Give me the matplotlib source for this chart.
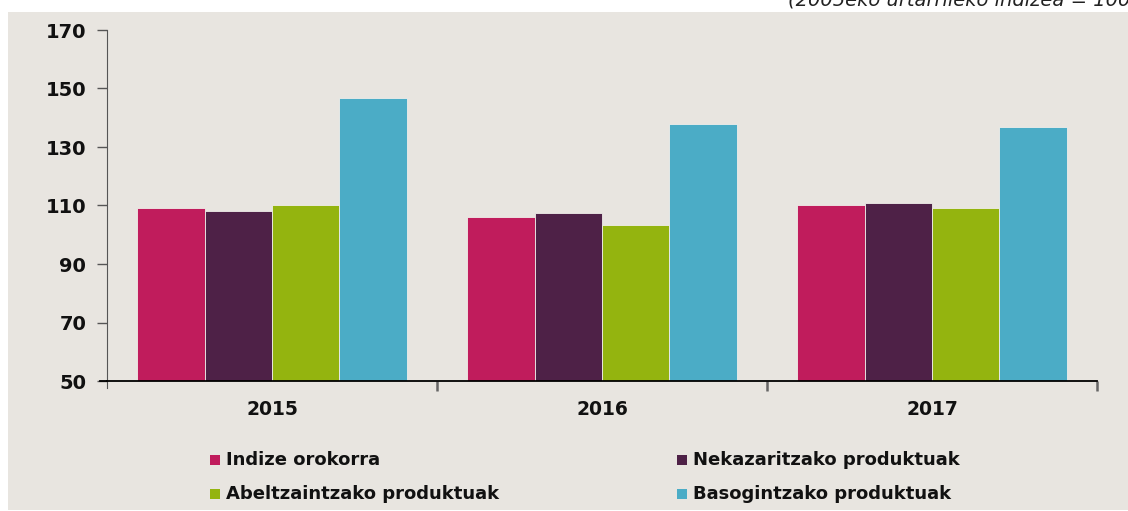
import matplotlib
matplotlib.use("Agg")
import matplotlib.pyplot as plt
from matplotlib.patches import Rectangle
import numpy as np

years = ["2015", "2016", "2017"]
series = ["Indize orokorra", "Nekazaritzako produktuak",
          "Abeltzaintzako produktuak", "Basogintzako produktuak"]
indize = [109.1, 106.1, 110.2]
nekazaritza = [108.1, 107.4, 110.9]
abeltzaintza = [110.2, 103.3, 109.1]
basogintza = [146.8, 137.9, 136.8]
colors = ["#C01C5C", "#4E2147", "#94B40F", "#4BACC6"]
yticks = [50, 70, 90, 110, 130, 150, 170]

bg = "#E8E5E0"
fig = plt.figure(figsize=(11.28, 5.11), dpi=100)
fig.patches.append(Rectangle((8/1128, 1-510/511), 1-8/1128, (510-12)/511,
                             transform=fig.transFigure, facecolor=bg,
                             edgecolor="none", zorder=-10))
# subtitle sits partly outside the image, as in the source
fig.text(788/1128, 1.0, "(2005eko urtarrileko indizea = 100)", style="italic",
         fontsize=14, color="#222222", ha="left", va="center")

ax = fig.add_axes([107/1128, 1-381/511, 990/1128, 351/511])
ax.set_facecolor("none")

data = [indize, nekazaritza, abeltzaintza, basogintza]
x = np.arange(len(years))
w = 0.204
for i, vals in enumerate(data):
    ax.bar(x + (i - 1.5) * w, np.array(vals) - 50, width=w, bottom=50,
           color=colors[i], edgecolor="#F0EEEA", linewidth=0.6, zorder=2)

ax.set_xlim(-0.5, 2.5)
ax.set_ylim(50, 170)
ax.set_yticks(yticks)
ax.set_xticks(x)
ax.set_xticks([0.5, 1.5, 2.5], minor=True)
ax.set_xticklabels(years)
ax.tick_params(axis="x", which="major", length=0, pad=14, labelsize=13.5)
ax.tick_params(axis="x", which="minor", length=7, color="#666666", width=1.8)
ax.tick_params(axis="y", length=7, color="#555555", width=1, labelsize=14, pad=8)
for lab in ax.get_xticklabels() + ax.get_yticklabels():
    lab.set_fontweight("bold")
    lab.set_color("#111111")

for s in ["top", "right"]:
    ax.spines[s].set_visible(False)
ax.spines["left"].set_color("#555555")
ax.spines["left"].set_bounds(47.6, 170)
ax.spines["bottom"].set_color("black")
ax.spines["bottom"].set_linewidth(1.3)
ax.plot([-0.52, -0.5], [50, 50], color="black", lw=1.3, clip_on=False)

# legend
xs = [210/1128, 677/1128]
ys = [1-460/511, 1-494/511]
for i, name in enumerate(series):
    cx, cy = xs[i % 2], ys[i // 2]
    fig.patches.append(Rectangle((cx, cy - 5/511), 10/1128, 10/511,
                                 transform=fig.transFigure, facecolor=colors[i],
                                 edgecolor="none"))
    fig.text(cx + 16/1128, cy, name, fontsize=13, fontweight="bold",
             ha="left", va="center", color="#111111")

fig.savefig("out.png", dpi=100)
